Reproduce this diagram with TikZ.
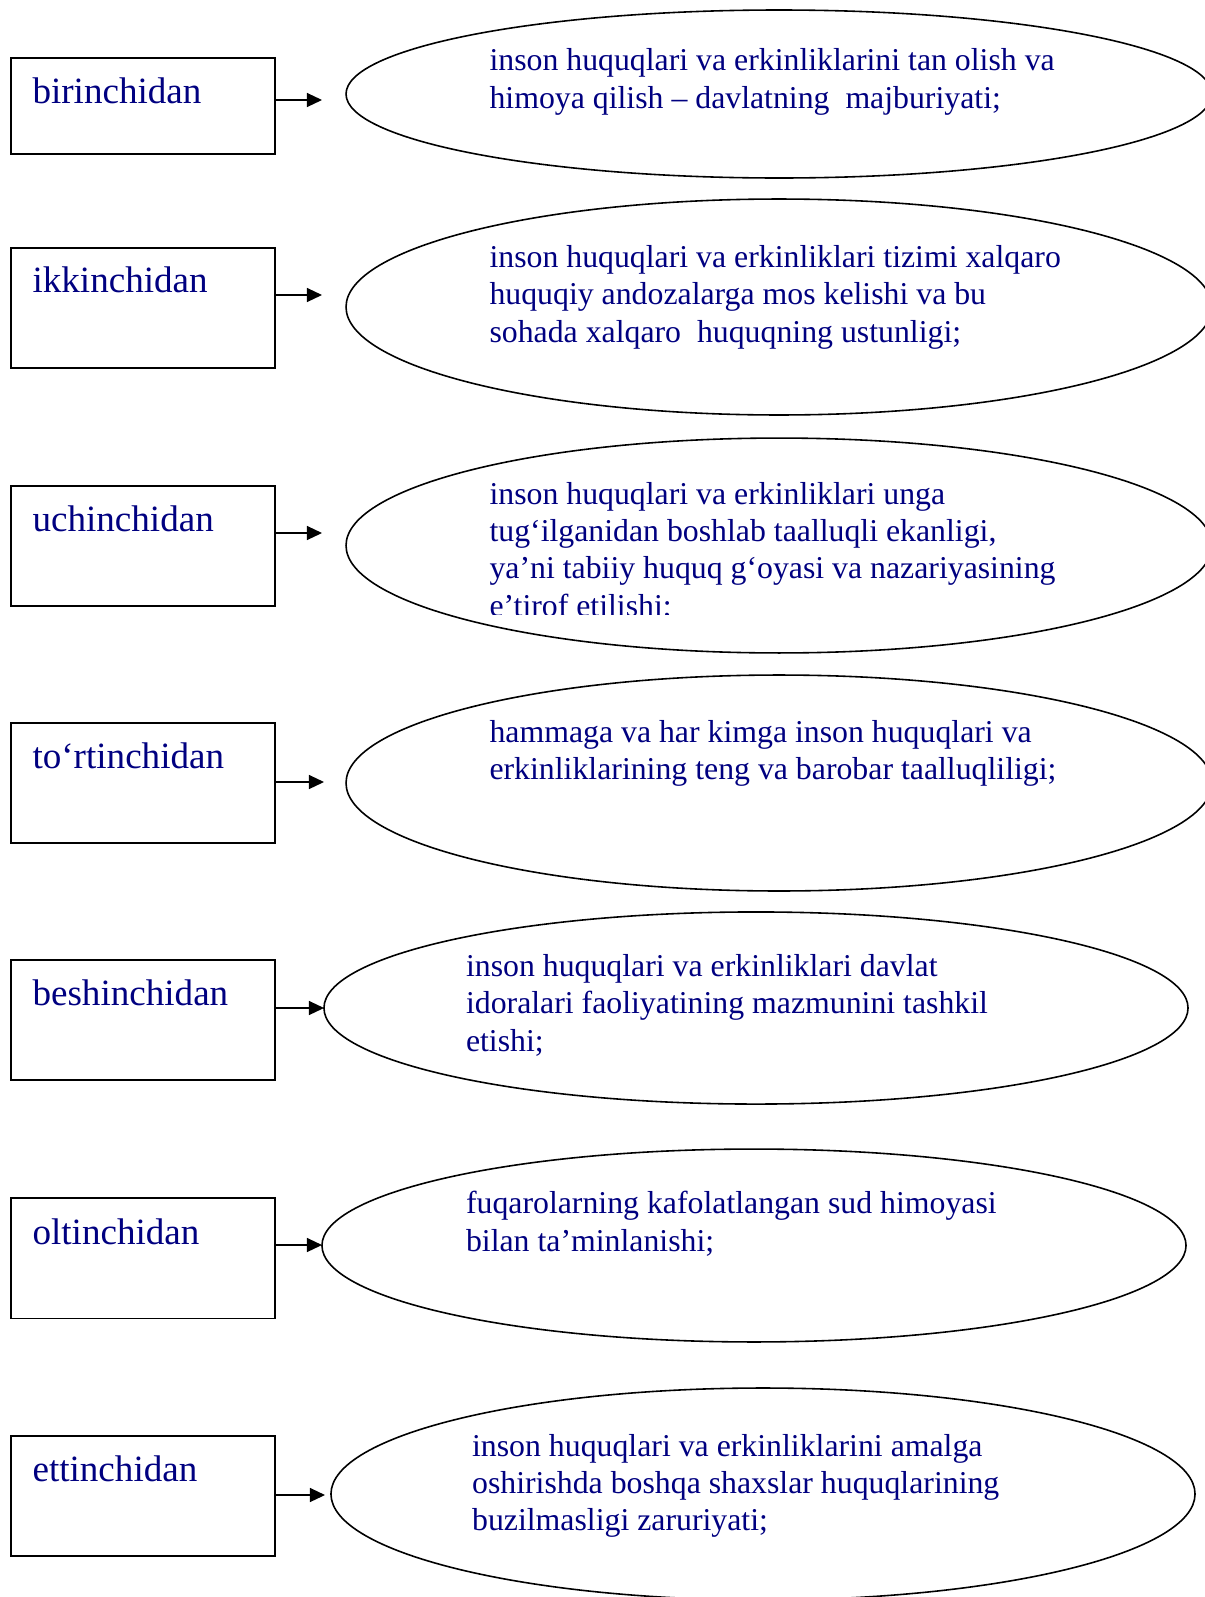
\documentclass[tikz,border=0pt]{standalone}
\usepackage{fontspec}
\setmainfont{Liberation Serif}
\usetikzlibrary{shapes.geometric,arrows.meta}
\definecolor{navytext}{RGB}{0,0,128}

\begin{document}
\begin{tikzpicture}[x=0.3774pt, y=-0.3774pt,
    frame/.style = {draw, line width=0.7pt, minimum width=99.6pt, minimum height=45.3pt, inner sep=0pt, outer sep=0pt},
    oval/.style = {draw, ellipse, line width=0.6pt, minimum width=326.8pt, inner sep=0pt, outer sep=0pt},
    box text/.style = {anchor=base west, inner sep=0pt, text=navytext, font=\fontsize{14}{16}\selectfont},
    oval text/.style = {anchor=base west, inner sep=0pt, align=left, text=navytext, font=\fontsize{12}{14}\selectfont},
    link/.style = {-{Triangle[length=5.7pt, width=5.3pt]}, line width=0.5pt}]
    \path[use as bounding box, clip] (0, 0) rectangle (1205, 1597);

    % the text nodes sit on the baseline of their last line
    \node[frame, minimum height=36.2pt] (birinchidan box) at (143, 106) {};
    \node[box text] (birinchidan label) at (32, 103) {birinchidan};
    \node[oval, minimum height=63.4pt] (birinchidan oval) at (779, 94) {};
    \node[oval text] (birinchidan text) at (489, 108) {inson huquqlari va erkinliklarini tan olish va \\ himoya qilish – davlatning\ \ majburiyati;};
    \coordinate (birinchidan tip) at (322, 100);
    \draw[link] (birinchidan box.east |- birinchidan tip) -- (birinchidan tip);

    \node[frame] (ikkinchidan box) at (143, 307.6) {};
    \node[box text] (ikkinchidan label) at (32, 292.5) {ikkinchidan};
    \node[oval, minimum height=81.5pt] (ikkinchidan oval) at (779, 307) {};
    \node[oval text] (ikkinchidan text) at (489, 342) {inson huquqlari va erkinliklari tizimi xalqaro \\ huquqiy andozalarga mos kelishi va bu \\ sohada xalqaro\ \ huquqning ustunligi;};
    \coordinate (ikkinchidan tip) at (322, 295);
    \draw[link] (ikkinchidan box.east |- ikkinchidan tip) -- (ikkinchidan tip);

    \node[frame] (uchinchidan box) at (143, 546) {};
    \node[box text] (uchinchidan label) at (32, 531) {uchinchidan};
    \node[oval, minimum height=81.1pt] (uchinchidan oval) at (779, 545.5) {};
    \begin{scope}
      \clip (0, 0) rectangle (1205, 614);
      \node[oval text] (uchinchidan text) at (489, 616) {inson huquqlari va erkinliklari unga \\ tug‘ilganidan boshlab taalluqli ekanligi, \\ ya’ni tabiiy huquq g‘oyasi va nazariyasining \\ e’tirof etilishi;};
    \end{scope}
    \coordinate (uchinchidan tip) at (322, 533);
    \draw[link] (uchinchidan box.east |- uchinchidan tip) -- (uchinchidan tip);

    \node[frame] (tortinchidan box) at (143, 783) {};
    \node[box text] (tortinchidan label) at (32, 768) {to‘rtinchidan};
    \node[oval, minimum height=81.5pt] (tortinchidan oval) at (779, 783) {};
    \node[oval text] (tortinchidan text) at (489, 779.5) {hammaga va har kimga inson huquqlari va \\ erkinliklarining teng va barobar taalluqliligi;};
    \coordinate (tortinchidan tip) at (324, 782);
    \draw[link] (tortinchidan box.east |- tortinchidan tip) -- (tortinchidan tip);

    \node[frame] (beshinchidan box) at (143, 1020) {};
    \node[box text] (beshinchidan label) at (32, 1005) {beshinchidan};
    \node[oval, minimum width=326.1pt, minimum height=72.5pt] (beshinchidan oval) at (756, 1008) {};
    \node[oval text] (beshinchidan text) at (465.5, 1051) {inson huquqlari va erkinliklari davlat \\ idoralari faoliyatining mazmunini tashkil \\ etishi;};
    \coordinate (beshinchidan tip) at (324, 1008);
    \draw[link] (beshinchidan box.east |- beshinchidan tip) -- (beshinchidan tip);

    \node[frame] (oltinchidan box) at (143, 1258.4) {};
    \node[box text] (oltinchidan label) at (32, 1244) {oltinchidan};
    \node[oval, minimum width=326.1pt, minimum height=72.8pt] (oltinchidan oval) at (754, 1245.5) {};
    \node[oval text] (oltinchidan text) at (465.5, 1251) {fuqarolarning kafolatlangan sud himoyasi \\ bilan ta’minlanishi;};
    \coordinate (oltinchidan tip) at (322, 1245);
    \draw[link] (oltinchidan box.east |- oltinchidan tip) -- (oltinchidan tip);

    \node[frame] (ettinchidan box) at (143, 1496) {};
    \node[box text] (ettinchidan label) at (32, 1481) {ettinchidan};
    \node[oval, minimum width=326.1pt, minimum height=80pt] (ettinchidan oval) at (763, 1494) {};
    \node[oval text] (ettinchidan text) at (471.6, 1530.5) {inson huquqlari va erkinliklarini amalga \\ oshirishda boshqa shaxslar huquqlarining \\ buzilmasligi zaruriyati;};
    \coordinate (ettinchidan tip) at (325, 1495);
    \draw[link] (ettinchidan box.east |- ettinchidan tip) -- (ettinchidan tip);
\end{tikzpicture}
\end{document}
